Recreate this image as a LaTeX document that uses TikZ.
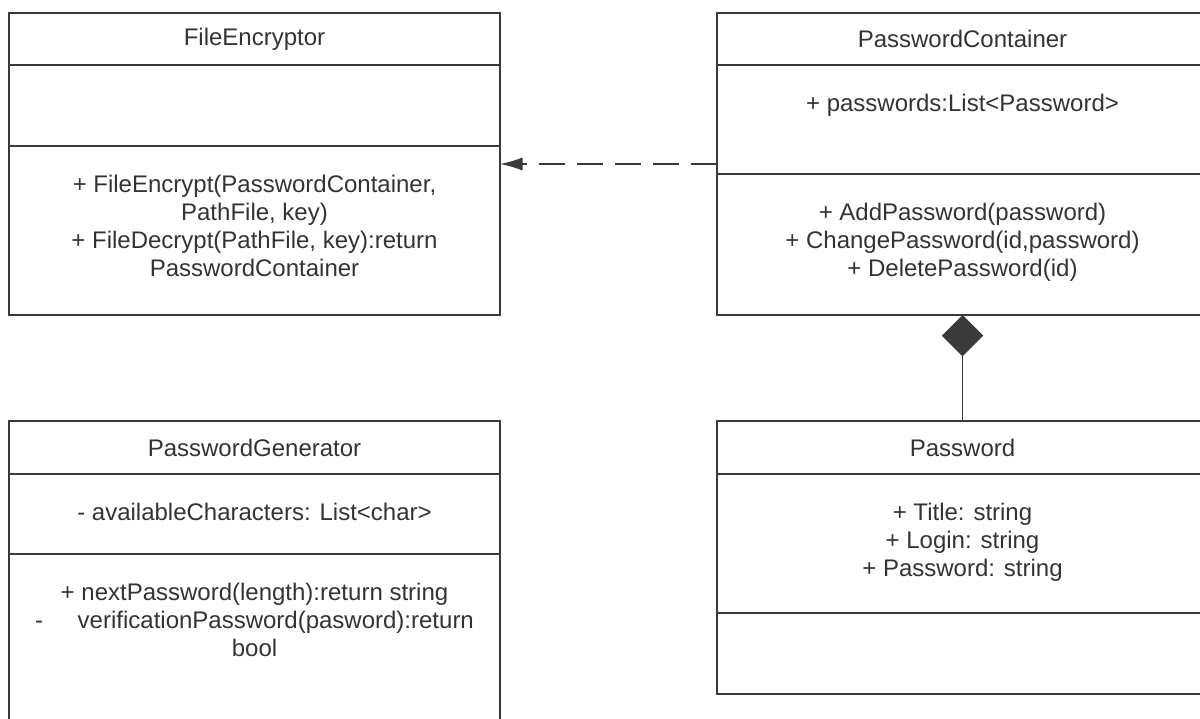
\documentclass[tikz,border=0pt]{standalone}
\usepackage{fontspec}
\setmainfont{Liberation Sans}
\usepackage{xcolor}
\usetikzlibrary{positioning,arrows.meta,fit}
\definecolor{umlline}{HTML}{3A3A3A}
\definecolor{umltext}{HTML}{333333}

\begin{document}
\begin{tikzpicture}[
		x=0.75pt, y=-0.75pt,
		every node/.style={font=\fontsize{18}{21}\selectfont, text=umltext},
		compart/.style={
				draw=umlline, line width=1.5pt,
				outer sep=0pt, inner sep=0pt,
				minimum width=368.25pt, anchor=north west
			},
		members/.style={align=center, inner sep=0pt, anchor=north},
		classbox/.style={inner sep=0pt, outer sep=0pt},
		dep/.style={
				draw=umlline, line width=1.1pt,
				dash pattern=on 19.5pt off 9pt,
				-{Latex[length=17pt,width=10pt]}
			},
		comp/.style={draw=umlline, line width=1pt, -{Diamond[length=31pt,width=31pt]}}
	]
	\useasboundingbox (0,0) rectangle (1200,718);
	\clip (0,0) rectangle (1200,718);

	% FileEncryptor
	\node[compart, minimum height=39pt] (fe-name) at (9,13) {FileEncryptor};
	\node[compart, minimum height=60.75pt, below=0pt of fe-name] (fe-attr) {};
	\node[compart, minimum height=126.75pt, below=0pt of fe-attr] (fe-ops) {};
	\node[members, below=22pt of fe-ops.north] (fe-ops-txt) {+ FileEncrypt(PasswordContainer,\\ PathFile, key)\\ + FileDecrypt(PathFile, key):return\\ PasswordContainer};
	\node[classbox, fit=(fe-name)(fe-ops)] (fe) {};

	% PasswordContainer
	\node[compart, minimum height=39pt] (pc-name) at (717,13) {PasswordContainer};
	\node[compart, minimum height=81.75pt, below=0pt of pc-name] (pc-attr) {};
	\node[compart, minimum height=105.75pt, below=0pt of pc-attr] (pc-ops) {};
	\node[members, below=22pt of pc-attr.north] (pc-attr-txt) {+ passwords:List<Password>};
	\node[members, below=22pt of pc-ops.north] (pc-ops-txt) {+ AddPassword(password)\\ + ChangePassword(id,password)\\ + DeletePassword(id)};
	\node[classbox, fit=(pc-name)(pc-ops)] (pc) {};

	% PasswordGenerator
	\node[compart, minimum height=39.75pt] (pg-name) at (9,421) {PasswordGenerator};
	\node[compart, minimum height=60pt, below=0pt of pg-name] (pg-attr) {};
	\node[compart, minimum height=154.5pt, below=0pt of pg-attr] (pg-ops) {};
	\node[members, below=22pt of pg-attr.north] (pg-attr-txt) {- availableCharacters: List<char>};
	\node[members, below=22pt of pg-ops.north] (pg-ops-txt) {+ nextPassword(length):return string\\ -\hspace{26pt}verificationPassword(pasword):return\\ bool};

	% Password
	\node[compart, minimum height=39.75pt] (pw-name) at (717,421) {Password};
	\node[compart, minimum height=104.25pt, below=0pt of pw-name] (pw-attr) {};
	\node[compart, minimum height=60.75pt, below=0pt of pw-attr] (pw-ops) {};
	\node[members, below=22pt of pw-attr.north] (pw-attr-txt) {+ Title: string\\ + Login: string\\ + Password: string};
	\node[classbox, fit=(pw-name)(pw-ops)] (pw) {};

	\draw[dep] (pc.west) -- (fe.east);
	\draw[comp] (pw.north) -- (pc.south);
\end{tikzpicture}
\end{document}
